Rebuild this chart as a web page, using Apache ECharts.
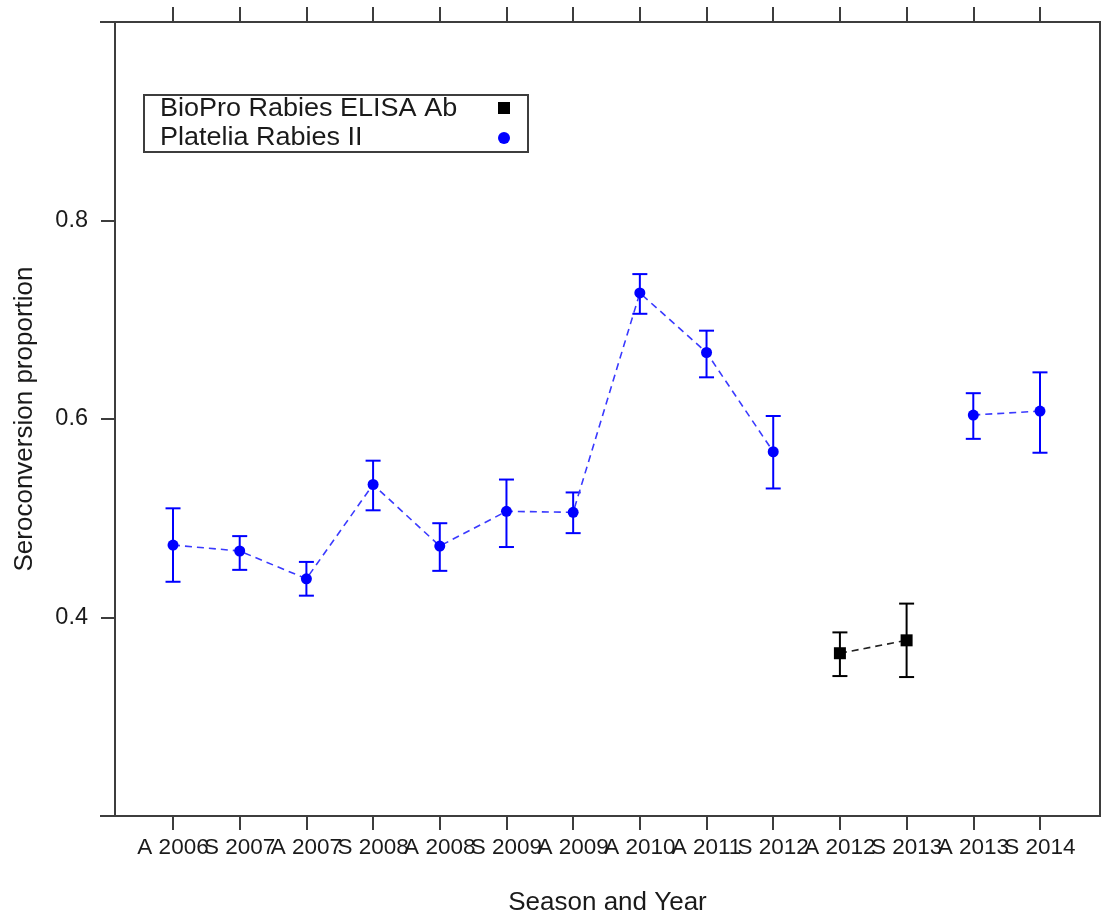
<!DOCTYPE html>
<html>
<head>
<meta charset="utf-8">
<script src="https://cdn.jsdelivr.net/npm/echarts@6/dist/echarts.min.js"></script>
<style>
html,body{margin:0;padding:0;background:#fff;}
#chart{width:1102px;height:913px;}
</style>
</head>
<body>
<div id="chart"></div>
<script>
// ---- data ----
var categories = ['A 2006','S 2007','A 2007','S 2008','A 2008','S 2009','A 2009','A 2010','A 2011','S 2012','A 2012','S 2013','A 2013','S 2014'];
// Platelia Rabies II (blue); null = no value
var plateliaMean  = [0.473,0.467,0.439,0.534,0.472,0.507,0.506,0.727,0.667,0.567,null,null,0.604,0.608];
var plateliaUpper = [0.510,0.482,0.456,0.558,0.495,0.539,0.526,0.746,0.689,0.603,null,null,0.626,0.647];
var plateliaLower = [0.436,0.448,0.422,0.508,0.447,0.471,0.485,0.706,0.642,0.530,null,null,0.580,0.566];
// BioPro Rabies ELISA Ab (black)
var bioproMean  = [null,null,null,null,null,null,null,null,null,null,0.364,0.377,null,null];
var bioproUpper = [null,null,null,null,null,null,null,null,null,null,0.385,0.414,null,null];
var bioproLower = [null,null,null,null,null,null,null,null,null,null,0.341,0.340,null,null];
var yTicks = [0.4,0.6,0.8];
var legendNames = ['BioPro Rabies ELISA Ab','Platelia Rabies II'];

// ---- build ----
var xPos = categories.map(function(_,i){return i+1;});
var xOdd = xPos.filter(function(v){return v%2===1;});
var xEven = xPos.filter(function(v){return v%2===0;});
function lineData(mean){
  return mean.map(function(v,i){return [i+1, v===null?'-':v];});
}
function errData(mean,lo,hi){
  var out=[];
  mean.forEach(function(v,i){ if(v!==null) out.push([i+1, lo[i], hi[i]]); });
  return out;
}
function errSeries(data,color){
  return {
    type:'custom', data:data, z:3,
    encode:{x:0,y:[1,2]},
    renderItem:function(params,api){
      var x=api.value(0);
      var lo=api.coord([x,api.value(1)]);
      var hi=api.coord([x,api.value(2)]);
      var hw=7.5;
      var st={stroke:color,lineWidth:2};
      return {type:'group',children:[
        {type:'line',shape:{x1:lo[0],y1:lo[1],x2:hi[0],y2:hi[1]},style:st},
        {type:'line',shape:{x1:lo[0]-hw,y1:lo[1],x2:lo[0]+hw,y2:lo[1]},style:st},
        {type:'line',shape:{x1:hi[0]-hw,y1:hi[1],x2:hi[0]+hw,y2:hi[1]},style:st}
      ]};
    }
  };
}
var frameColor='#3d3d3d';
var textColor='#1a1a1a';
var font='Liberation Sans';
function labelAxis(vals){
  return {
    type:'value',min:0.13,max:14.9,position:'bottom',
    axisLine:{show:false},splitLine:{show:false},
    axisTick:{show:true,customValues:vals,length:14,lineStyle:{color:frameColor,width:2}},
    axisLabel:{show:true,customValues:vals,margin:20,hideOverlap:false,showMinLabel:true,showMaxLabel:true,
      fontFamily:font,fontSize:22.5,color:textColor,
      formatter:function(v){return categories[Math.round(v)-1]||'';}}
  };
}
var ax0=labelAxis(xOdd);
ax0.name='Season and Year';ax0.nameLocation='middle';ax0.nameGap=74;
ax0.nameTextStyle={fontFamily:font,fontSize:26,color:textColor};
var ax2=labelAxis(xEven);

var chart=echarts.init(document.getElementById('chart'));
chart.setOption({
  animation:false,
  backgroundColor:'#ffffff',
  grid:{left:115,right:2,top:22,bottom:97,containLabel:false,outerBoundsMode:'none',
    show:true,borderColor:frameColor,borderWidth:2,backgroundColor:'transparent'},
  xAxis:[ax0,{
    type:'value',min:0.13,max:14.9,position:'top',
    axisLine:{show:false},splitLine:{show:false},
    axisTick:{show:true,customValues:xPos,length:15,lineStyle:{color:frameColor,width:2}},
    axisLabel:{show:false}
  },ax2],
  yAxis:{
    type:'value',min:0.2,max:1.0,interval:0.2,
    name:'Seroconversion proportion',nameLocation:'middle',nameGap:77,nameRotate:90,
    nameTextStyle:{fontFamily:font,fontSize:26,color:textColor},
    axisLine:{show:false},splitLine:{show:false},
    axisTick:{show:true,customValues:yTicks,length:14,lineStyle:{color:frameColor,width:2}},
    axisLabel:{show:true,customValues:yTicks,margin:27,hideOverlap:false,fontFamily:font,fontSize:23.5,color:textColor,
      formatter:function(v){return v.toFixed(1);}}
  },
  series:[
    errSeries(errData(plateliaMean,plateliaLower,plateliaUpper),'#0000ff'),
    errSeries(errData(bioproMean,bioproLower,bioproUpper),'#000000'),
    {type:'line',name:legendNames[1],data:lineData(plateliaMean),connectNulls:false,z:4,
      symbol:'circle',symbolSize:11,itemStyle:{color:'#0000ff'},
      lineStyle:{color:'#3a3aff',width:1.6,type:[7,5]}},
    {type:'line',name:legendNames[0],data:lineData(bioproMean),connectNulls:false,z:4,
      symbol:'rect',symbolSize:12,itemStyle:{color:'#000000'},
      lineStyle:{color:'#222222',width:1.6,type:[7,5]}}
  ],
  graphic:[
    {type:'line',shape:{x1:100,y1:22,x2:115,y2:22},style:{stroke:frameColor,lineWidth:2}},
    {type:'line',shape:{x1:100,y1:816,x2:115,y2:816},style:{stroke:frameColor,lineWidth:2}},
    {type:'rect',shape:{x:144,y:95,width:384,height:57},style:{fill:'#fff',stroke:frameColor,lineWidth:2},z:10},
    {type:'text',x:160,y:109,style:{text:legendNames[0],font:'25px "Liberation Sans"',fill:textColor,verticalAlign:'middle'},scaleX:1.08,z:11},
    {type:'text',x:160,y:138,style:{text:legendNames[1],font:'25px "Liberation Sans"',fill:textColor,verticalAlign:'middle'},scaleX:1.08,z:11},
    {type:'rect',shape:{x:498,y:102,width:12,height:12},style:{fill:'#000'},z:11},
    {type:'circle',shape:{cx:504,cy:138,r:6},style:{fill:'#0000ff'},z:11}
  ]
});
</script>
</body>
</html>
